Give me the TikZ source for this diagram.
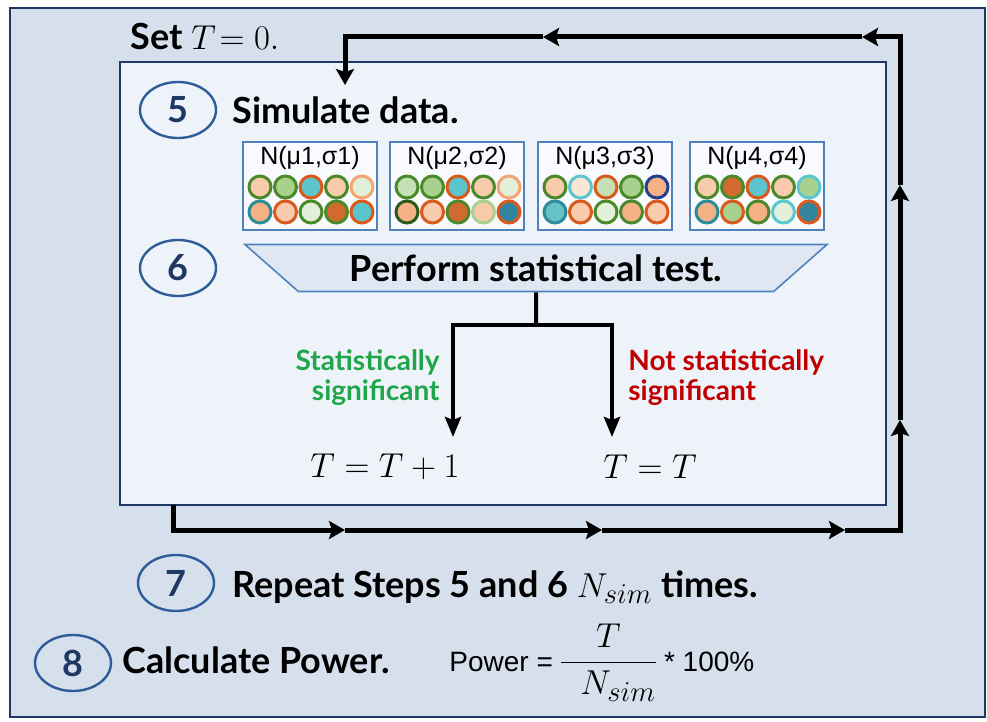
\documentclass[tikz,border=0pt]{standalone}
\usepackage{amsmath}
\usepackage{fontspec}
\setmainfont{Lato}
\newfontfamily\arialfont{Liberation Sans}
\usetikzlibrary{shapes.geometric,arrows.meta}

\definecolor{outerbg}{HTML}{D6DFEC}
\definecolor{innerbg}{HTML}{EEF3F9}
\definecolor{framenavy}{HTML}{1F3864}
\definecolor{ringblue}{HTML}{2E5C99}
\definecolor{boxblue}{HTML}{4F81BD}
\definecolor{testfill}{HTML}{DFE7F2}
\definecolor{sigreen}{HTML}{1FA64A}
\definecolor{nsred}{HTML}{C00000}
% bead fills
\definecolor{peach}{HTML}{F8CBAD}
\definecolor{leaf}{HTML}{A9D18E}
\definecolor{aqua}{HTML}{5BC4CC}
\definecolor{mint}{HTML}{E2F0D9}
\definecolor{apricot}{HTML}{F4B183}
\definecolor{rust}{HTML}{D2692E}
\definecolor{lagoon}{HTML}{31859C}
\definecolor{cream}{HTML}{FBE5D6}
\definecolor{sage}{HTML}{C5E0B4}
\definecolor{teal2}{HTML}{66C2C4}
% bead rims
\definecolor{moss}{HTML}{4A8A2A}
\definecolor{forest}{HTML}{2F5A1C}
\definecolor{flame}{HTML}{DA5A1E}
\definecolor{tan}{HTML}{F4A572}
\definecolor{petrol}{HTML}{2E8B9A}
\definecolor{sky}{HTML}{5BC8D0}
\definecolor{navyb}{HTML}{203F8F}
\definecolor{fern}{HTML}{A9D18E}

\newcommand{\stepfont}{\bfseries\fontsize{18}{20}\selectfont}
\newcommand{\nsim}{N_{\mbox{\fontsize{14}{16}\selectfont$\mathnormal{sim}$}}}

\begin{document}
\begin{tikzpicture}[x=0.5pt,y=-0.5pt]
  \tikzstyle{loopline}=[-{Stealth[length=8pt,width=9pt,inset=1.5pt]},line width=2.5pt]
  \tikzstyle{branch}=[line width=2pt]
\tikzset{stepnum/.style={ellipse,draw=ringblue,line width=1.2pt,minimum width=38pt,
  minimum height=28pt,inner sep=0pt,text=framenavy,font=\stepfont},
steptext/.style={anchor=base west,inner sep=0pt,font=\stepfont},
distbox/.style={draw=boxblue,fill=white!60!innerbg,line width=0.9pt,minimum width=67pt,minimum height=44pt},
distlab/.style={inner sep=0pt,font=\arialfont\fontsize{12.5}{14}\selectfont},
bead/.style 2 args={circle,fill=#1,draw=#2,line width=1.5pt,minimum size=11pt,inner sep=0pt},
testbox/.style={trapezium,shape border rotate=180,trapezium left angle=43,trapezium right angle=43,
  trapezium stretches=true,minimum width=291.5pt,minimum height=23.5pt,draw=boxblue,
  fill=testfill,line width=0.8pt,font=\stepfont},
verdict/.style={inner sep=0pt,font=\bfseries\fontsize{14}{15}\selectfont},
result/.style={inner sep=0pt,font=\fontsize{18}{20}\selectfont}}
\useasboundingbox (0,0) rectangle (987,722);

% frames
\draw[framenavy,fill=outerbg,line width=1.3pt] (10,8) rectangle (985,717);
\draw[framenavy,fill=innerbg,line width=1pt] (120,62) rectangle (886,505);

% repeat loop
\coordinate (lpstart) at (173,505);
\coordinate (bot1) at (345,530);
\coordinate (bot2) at (602,530);
\coordinate (bot3) at (845,530);
\coordinate (rgt1) at (900,420);
\coordinate (rgt2) at (900,185);
\coordinate (top1) at (862,37);
\coordinate (top2) at (543,37);
\coordinate (lpend) at (345,85);
\draw[loopline] (lpstart) |- (bot1);
\draw[loopline] (bot1) -- (bot2);
\draw[loopline] (bot2) -- (bot3);
\draw[loopline] (bot3) -| (rgt1);
\draw[loopline] (rgt1) -- (rgt2);
\draw[loopline] (rgt2) |- (top1);
\draw[loopline] (top1) -- (top2);
\draw[loopline] (top2) -| (lpend);

\node[steptext] (setT) at (130,50) {Set {\mdseries\fontsize{16}{18}\selectfont$T\!= 0.$}};

% step 5
\node[stepnum] (n5) at (178,110) {5};
\node[steptext] (simul) at (232,124) {Simulate data.};
\foreach \bx/\cols [count=\k] in {
  243/{peach/moss,leaf/moss,aqua/flame,peach/moss,mint/tan,apricot/petrol,peach/flame,mint/moss,rust/moss,aqua/flame},
  390/{sage/moss,leaf/moss,aqua/flame,peach/moss,mint/tan,apricot/forest,peach/flame,rust/moss,peach/fern,lagoon/flame},
  538/{peach/moss,cream/sky,sage/flame,leaf/moss,apricot/navyb,teal2/petrol,peach/flame,mint/moss,apricot/moss,peach/flame},
  690/{peach/moss,rust/moss,aqua/flame,peach/moss,leaf/sky,apricot/petrol,leaf/flame,apricot/moss,mint/sky,lagoon/flame}}{
  \node[distbox] (box\k) at ({\bx+67},186) {};
  \node[distlab] (lab\k) at ({\bx+67},158) {N(μ\k,σ\k)};
  \foreach \f/\b [count=\i from 0] in \cols
    \node[bead={\f}{\b}] (bead\k-\i) at ({\bx+17+mod(\i,5)*25.5},{187+int(\i/5)*25}) {};
}

% step 6
\node[stepnum] (n6) at (178,268) {6};
\node[testbox] (test) at (536,268) {Perform statistical test.};
\coordinate (split) at (536,325);
\coordinate (tipsig) at (453,437);
\coordinate (tipns) at (612,437);
\draw[branch] (test.south) -- (split);
\draw[branch,-{Stealth[length=10pt,width=8pt,inset=1.5pt]}] (split) -| (tipsig);
\draw[branch,-{Stealth[length=10pt,width=8pt,inset=1.5pt]}] (split) -| (tipns);
\node[verdict,text=sigreen,anchor=east,align=right] (sig) at (440,378) {Statistically\\significant};
\node[verdict,text=nsred,anchor=west,align=left] (nsig) at (628,378) {Not statistically\\significant};
\node[result] (tplus) at (385,467) {$T = T + 1$};
\node[result] (tsame) at (650,467) {$T = T$};

% step 7
\node[stepnum] (n7) at (176,583) {7};
\node[steptext] (repeat) at (232,597) {Repeat Steps 5 and 6 {\mdseries\fontsize{17}{20}\selectfont$\nsim$} times.};

% step 8
\node[stepnum] (n8) at (73,663) {8};
\node[steptext] (calc) at (122,673) {Calculate Power.};
\node[anchor=base west,inner sep=0pt] (power) at (449,671)
  {{\arialfont\fontsize{14}{16}\selectfont Power =}{\fontsize{17}{20}\selectfont$\,\dfrac{T}{\;\;\nsim}\,$}{\arialfont\fontsize{14}{16}\selectfont * 100\%}};

\end{tikzpicture}
\end{document}
